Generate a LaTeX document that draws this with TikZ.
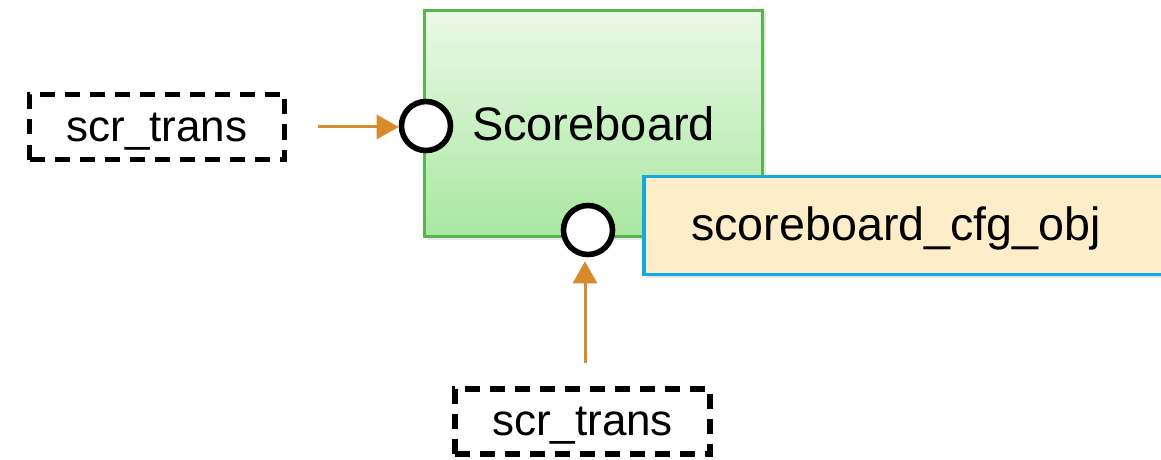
\documentclass[tikz,border=0pt]{standalone}
\usepackage{fontspec}
\setmainfont{Liberation Sans}
\usepackage{tikz}
\usetikzlibrary{shadows}
\usetikzlibrary{arrows.meta,shapes}
\usetikzlibrary{calc}
\definecolor{sbgreen}{HTML}{5BB450}
\definecolor{sbtop}{HTML}{EAF9E7}
\definecolor{sbbottom}{HTML}{A9E7A0}
\definecolor{cfgfill}{HTML}{FDEDC9}
\definecolor{cfgblue}{HTML}{12A9E0}
\definecolor{portorange}{HTML}{D98A2A}
\tikzstyle{block}=[rectangle,draw=sbgreen,line width=1.6pt,top color=sbtop,bottom color=sbbottom,minimum width=169pt,minimum height=113pt,inner sep=0pt,font=\fontsize{23.5}{28}\selectfont,drop shadow={shadow xshift=1.5pt,shadow yshift=-1.5pt,opacity=0.2}]
\tikzstyle{cfgbox}=[rectangle,draw=cfgblue,line width=1.6pt,fill=cfgfill,minimum width=268pt,minimum height=49pt,inner sep=0pt,drop shadow={shadow xshift=1.5pt,shadow yshift=-1.5pt,opacity=0.2}]
\tikzstyle{cfgtext}=[inner sep=0pt,font=\fontsize{23.3}{28}\selectfont]
\tikzstyle{transbox}=[rectangle,draw=black,line width=2.7pt,dash pattern=on 7.5pt off 5pt,minimum width=127.5pt,minimum height=32.5pt,inner sep=0pt,text depth=0pt,font=\fontsize{22}{26}\selectfont]
\tikzstyle{port}=[circle,fill=white,draw=black,line width=2.8pt,minimum size=24.5pt,inner sep=0pt]
\tikzstyle{edge} = [draw,line width=1.5pt,portorange,-{Triangle[length=11pt,width=12pt]}]

\begin{document}
\begin{tikzpicture}[x=0.5pt,y=-0.5pt]
    \useasboundingbox (0,0) rectangle (1161,460);

    \node[block] (sb) at (593.5,123.5) {Scoreboard};
    \node[cfgbox] (cfg) at (912,225.5) {};
    \node[cfgtext] (cfgtext) at (896,228) {scoreboard\_cfg\_obj};

    % the two transaction boxes
    \foreach \pos/ \name in {{(157,127)/lsrc},{(582.5,421.5)/bsrc}}
        \node[transbox] (\name) at \pos {scr\_trans};

    \node[port] (lport) at (426,126) {};
    \node[port] (bport) at (588,230) {};

    % connect the boxes to the ports
    \coordinate (lstart) at (318,127);
    \coordinate (bstart) at (585,363);
    \path[edge] (lstart) -- (lstart -| lport.west);
    \path[edge,shorten >=2pt] (bstart) -- (bstart |- bport.south);
\end{tikzpicture}
\end{document}
